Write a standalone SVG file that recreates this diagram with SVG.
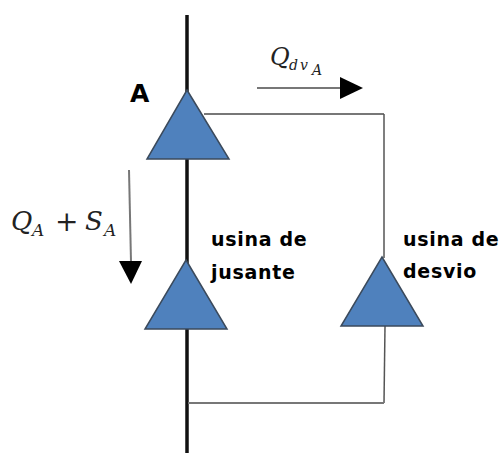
<svg xmlns="http://www.w3.org/2000/svg" width="499" height="467" viewBox="0 0 499 467">
<style>
.main{fill:none;stroke:#111;stroke-width:3.5}
.thin{fill:none;stroke:#777;stroke-width:2}
.dark{fill:none;stroke:#555;stroke-width:1.5}
.tri{fill:#4f81bd;stroke:#3b4a5c;stroke-width:1.5;stroke-linejoin:miter}
.lab{font-family:"DejaVu Sans",sans-serif;font-weight:700;font-size:19px;letter-spacing:.7px;fill:#000}
.m{font-family:"DejaVu Serif",serif;font-style:italic;fill:#222}
.ar{fill:#000}
</style>
<rect width="499" height="467" fill="#fff"/>
<g id="connectors">
<path class="main" d="M187 15V453"/>
<path class="thin" d="M204 114H384"/>
<path class="dark" d="M384 114V258"/>
<path class="dark" d="M385 326L384 403"/>
<path class="thin" d="M188 403H384"/>
<path class="thin" d="M257 88H342"/>
<path class="ar" d="M340 77L363 88L340 99Z"/>
<path class="thin" d="M129 170L131 262" stroke-width="1.5"/>
<path class="ar" d="M119 261H142L131 284Z"/>
</g>
<g id="node-a"><path class="tri" d="M187 90L229 159H147Z"/><text class="lab" x="130" y="102" style="font-size:25px;letter-spacing:0">A</text></g>
<g id="node-jusante"><path class="tri" d="M186 260L227 329H145Z"/><text class="lab" x="211" y="246">usina de</text><text class="lab" x="211" y="279">jusante</text></g>
<g id="node-desvio"><path class="tri" d="M382 257L423 326H341Z"/><text class="lab" x="403" y="246">usina de</text><text class="lab" x="403" y="278">desvio</text></g>
<g id="label-qdv"><text class="m" x="270" y="65" font-size="24">Q</text><text class="m" x="289" y="70" font-size="14" letter-spacing="2">dv</text><text class="m" x="312" y="75" font-size="14">A</text></g>
<g id="label-qs"><text class="m" x="11" y="230" font-size="26">Q</text><text class="m" x="32" y="236" font-size="17">A</text><text x="55" y="231" font-size="28" font-family="DejaVu Serif,serif" fill="#222">+</text><text class="m" x="85" y="230" font-size="26">S</text><text class="m" x="104" y="236" font-size="17">A</text></g>
</svg>
